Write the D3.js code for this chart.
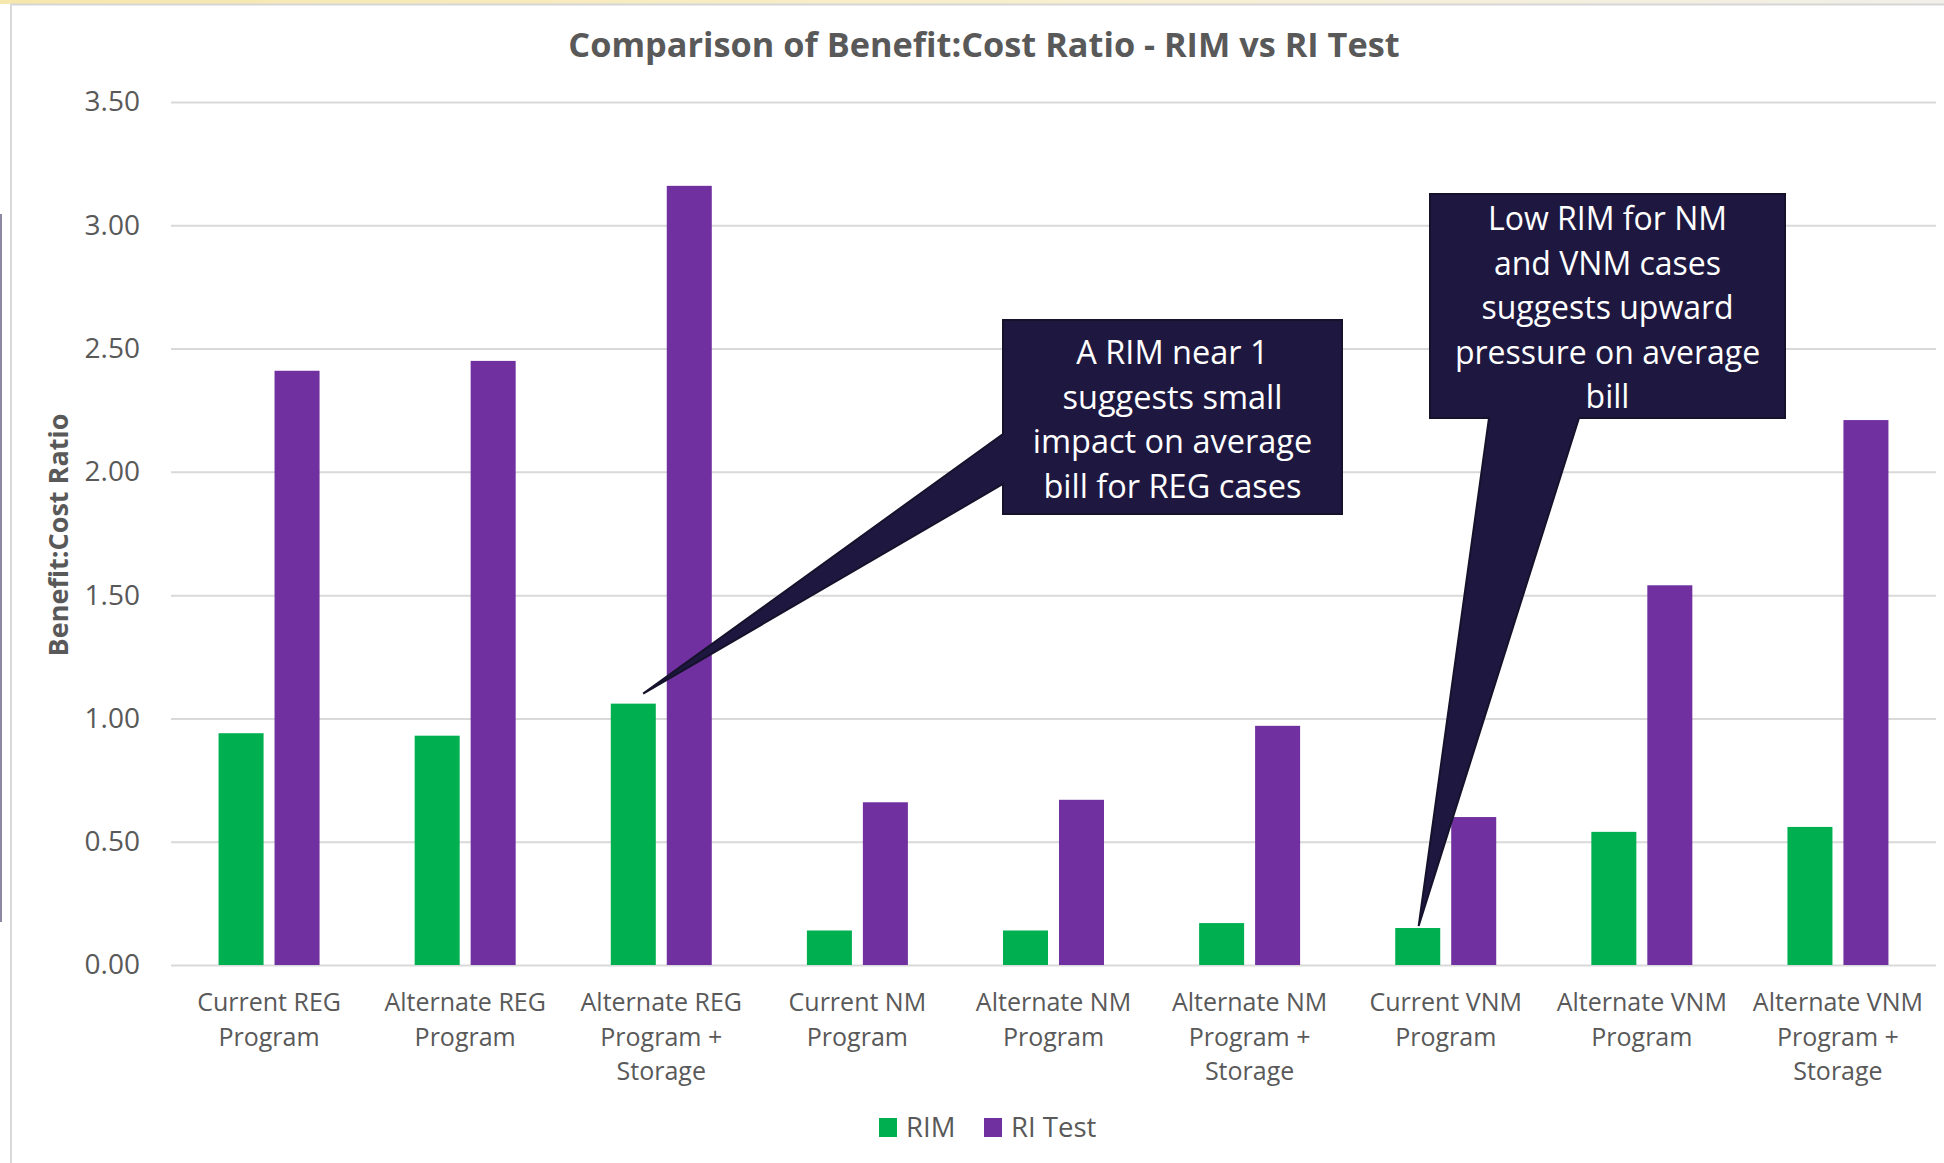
<!DOCTYPE html>
<html>
<head>
<meta charset="utf-8">
<script src="https://cdn.jsdelivr.net/npm/d3@7"></script>
<style>
  html, body { margin: 0; padding: 0; background: #ffffff; }
  svg { display: block; }
  text { font-family: "Open Sans", "DejaVu Sans", sans-serif; }
</style>
</head>
<body>
<svg id="chart" width="1944" height="1163"></svg>
<script>
// ---- data ----
const categories = [
  "Current REG\nProgram",
  "Alternate REG\nProgram",
  "Alternate REG\nProgram +\nStorage",
  "Current NM\nProgram",
  "Alternate NM\nProgram",
  "Alternate NM\nProgram +\nStorage",
  "Current VNM\nProgram",
  "Alternate VNM\nProgram",
  "Alternate VNM\nProgram +\nStorage"
];
const seriesNames = ["RIM", "RI Test"];
const rimValues    = [0.94, 0.93, 1.06, 0.14, 0.14, 0.17, 0.15, 0.54, 0.56];
const riTestValues = [2.41, 2.45, 3.16, 0.66, 0.67, 0.97, 0.60, 1.54, 2.21];
const yTicks = [0, 0.5, 1, 1.5, 2, 2.5, 3, 3.5];
const chartTitle = "Comparison of Benefit:Cost Ratio - RIM vs RI Test";
const yAxisTitle = "Benefit:Cost Ratio";
const calloutTexts = [
  ["A RIM near 1", "suggests small", "impact on average", "bill for REG cases"],
  ["Low RIM for NM", "and VNM cases", "suggests upward", "pressure on average", "bill"]
];
const calloutTargets = [2, 6];   // category index each callout points at

// ---- styling ----
const colors = { "RIM": "#00b050", "RI Test": "#7030a0" };
const textGray = "#595959";
const gridGray = "#d9d9d9";
const calloutFill = "#1e1840";

const svg = d3.select("#chart");

// page surround: yellow strip above the chart frame, side rule at the far left
const defs = svg.append("defs");
const grad = defs.append("linearGradient").attr("id", "topStrip")
  .attr("x1", "0%").attr("x2", "100%").attr("y1", "0%").attr("y2", "0%");
grad.append("stop").attr("offset", "0%").attr("stop-color", "#f6e7ac");
grad.append("stop").attr("offset", "55%").attr("stop-color", "#f8efcf");
grad.append("stop").attr("offset", "100%").attr("stop-color", "#f1efe8");
svg.append("rect").attr("x", 0).attr("y", 0).attr("width", 1944).attr("height", 4)
  .attr("fill", "url(#topStrip)");
svg.append("rect").attr("x", 10).attr("y", 4).attr("width", 1934).attr("height", 1163)
  .attr("fill", "#ffffff").attr("stroke", "none");
svg.append("line").attr("x1", 10).attr("x2", 1944).attr("y1", 4.5).attr("y2", 4.5)
  .attr("stroke", "#d6d6d6").attr("stroke-width", 2);
svg.append("line").attr("x1", 11).attr("x2", 11).attr("y1", 4).attr("y2", 1163)
  .attr("stroke", "#d9d9d9").attr("stroke-width", 2);
svg.append("line").attr("x1", 1).attr("x2", 1).attr("y1", 214).attr("y2", 922)
  .attr("stroke", "#8c8aa0").attr("stroke-width", 2);

// ---- scales ----
const plot = { left: 171, right: 1936, top: 102, bottom: 965 };
const y = d3.scaleLinear().domain([0, 3.5]).range([plot.bottom, plot.top]);
const x0 = d3.scaleBand().domain(categories).range([plot.left, plot.right])
  .paddingInner(0).paddingOuter(0);
const band = x0.bandwidth();
const groupW = band * 0.515;
const x1 = d3.scaleBand().domain(seriesNames)
  .range([(band - groupW) / 2, (band + groupW) / 2])
  .paddingInner(0.196).paddingOuter(0);

// ---- gridlines + y tick labels ----
const yAxis = d3.axisLeft(y).tickValues(yTicks).tickFormat(d3.format(".2f"))
  .tickSize(-(plot.right - plot.left)).tickPadding(31);
const gy = svg.append("g").attr("transform", `translate(${plot.left},0)`).call(yAxis);
gy.select(".domain").remove();
gy.selectAll(".tick line").attr("stroke", gridGray).attr("stroke-width", 2);
gy.selectAll(".tick text").attr("fill", textGray).attr("font-size", 28)
  .attr("font-family", "'Open Sans', sans-serif");

// ---- bars ----
const rows = categories.map((c, i) => ({ cat: c, values: [
  { key: "RIM", value: rimValues[i] },
  { key: "RI Test", value: riTestValues[i] }
]}));
const groups = svg.append("g").selectAll("g").data(rows).join("g")
  .attr("transform", d => `translate(${x0(d.cat)},0)`);
groups.selectAll("rect").data(d => d.values).join("rect")
  .attr("x", d => x1(d.key))
  .attr("y", d => y(d.value))
  .attr("width", x1.bandwidth())
  .attr("height", d => y(0) - y(d.value))
  .attr("fill", d => colors[d.key]);

// ---- category labels ----
const catG = svg.append("g");
categories.forEach(c => {
  const t = catG.append("text")
    .attr("x", x0(c) + band / 2).attr("y", 1011)
    .attr("text-anchor", "middle").attr("fill", textGray).attr("font-size", 25);
  c.split("\n").forEach((line, k) => {
    t.append("tspan").attr("x", x0(c) + band / 2).attr("y", 1011 + k * 34.6).text(line);
  });
});

// ---- title ----
svg.append("text").attr("x", 984).attr("y", 57)
  .attr("text-anchor", "middle").attr("font-weight", 700)
  .attr("font-size", 34.3).attr("fill", textGray).text(chartTitle);

// ---- y axis title ----
svg.append("text")
  .attr("transform", "translate(68,535) rotate(-90)")
  .attr("text-anchor", "middle").attr("font-weight", 700)
  .attr("font-size", 27).attr("fill", textGray).text(yAxisTitle);

// ---- legend ----
const legend = svg.append("g");
const legendItems = [
  { key: "RIM", sx: 879, tx: 906 },
  { key: "RI Test", sx: 984, tx: 1011 }
];
legendItems.forEach(it => {
  legend.append("rect").attr("x", it.sx).attr("y", 1118).attr("width", 18).attr("height", 19)
    .attr("fill", colors[it.key]);
  legend.append("text").attr("x", it.tx).attr("y", 1137)
    .attr("font-size", 27.5).attr("fill", textGray).text(it.key);
});

// ---- callouts ----
function rimTop(i) {
  const c = categories[i];
  return { x: x0(c) + x1("RIM"), y: y(rimValues[i]) };
}
const bw = x1.bandwidth();

// callout 1: box with wedge leaving its left side
{
  const box = { x0: 1003, y0: 320, x1: 1342, y1: 514 };
  const t = rimTop(calloutTargets[0]);
  const tip = [t.x + bw * 0.72, t.y - 10];
  const path = `M${box.x0},${box.y0} L${box.x1},${box.y0} L${box.x1},${box.y1} L${box.x0},${box.y1}
    L${box.x0},484 L${tip[0]},${tip[1]} L${box.x0},434 Z`;
  svg.append("path").attr("d", path).attr("fill", calloutFill)
    .attr("stroke", "#15122c").attr("stroke-width", 2).attr("stroke-linejoin", "miter");
  const cx = (box.x0 + box.x1) / 2;
  calloutTexts[0].forEach((line, k) => {
    svg.append("text").attr("x", cx).attr("y", 364 + k * 44.5)
      .attr("text-anchor", "middle").attr("font-size", 32.5).attr("fill", "#ffffff").text(line);
  });
}

// callout 2: box with wedge leaving its bottom side
{
  const box = { x0: 1430, y0: 194, x1: 1785, y1: 418 };
  const t = rimTop(calloutTargets[1]);
  const tip = [t.x + bw * 0.52, t.y - 2];
  const path = `M${box.x0},${box.y0} L${box.x1},${box.y0} L${box.x1},${box.y1} L1579,${box.y1}
    L${tip[0]},${tip[1]} L1489,${box.y1} L${box.x0},${box.y1} Z`;
  svg.append("path").attr("d", path).attr("fill", calloutFill)
    .attr("stroke", "#15122c").attr("stroke-width", 2).attr("stroke-linejoin", "miter");
  const cx = (box.x0 + box.x1) / 2;
  calloutTexts[1].forEach((line, k) => {
    svg.append("text").attr("x", cx).attr("y", 230 + k * 44.5)
      .attr("text-anchor", "middle").attr("font-size", 32).attr("fill", "#ffffff").text(line);
  });
}
</script>
</body>
</html>
